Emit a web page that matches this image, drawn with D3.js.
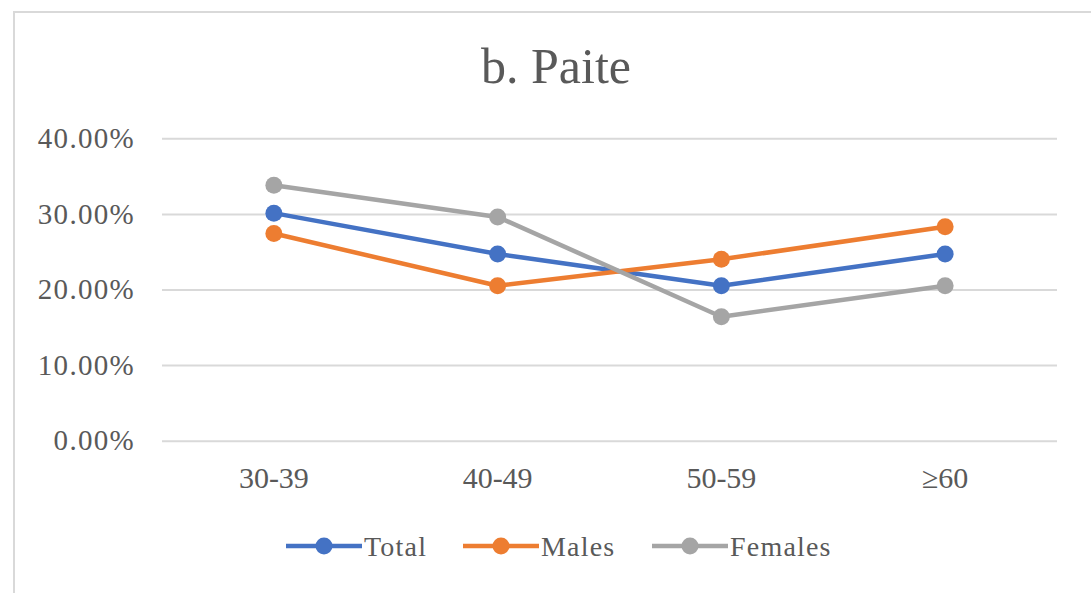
<!DOCTYPE html>
<html><head><meta charset="utf-8">
<script src="https://cdn.jsdelivr.net/npm/d3@7"></script>
<style>
html,body{margin:0;padding:0;background:#fff;}
</style></head>
<body>
<svg id="chart" width="1091" height="593"></svg>
<script>
const categories = ["30-39", "40-49", "50-59", "≥60"];
const seriesNames = ["Total", "Males", "Females"];
const totalValues = [0.301, 0.247, 0.205, 0.247];
const malesValues = [0.274, 0.205, 0.240, 0.283];
const femalesValues = [0.338, 0.296, 0.164, 0.205];
const yTicks = [0, 0.1, 0.2, 0.3, 0.4];
const colors = ["#4472C4", "#ED7D31", "#A5A5A5"];
const title = "b. Paite";

const FONT = '"Liberation Serif", "Times New Roman", serif';
const TEXT = "#595959";
const series = [totalValues, malesValues, femalesValues].map((v, i) => ({name: seriesNames[i], values: v, color: colors[i]}));

const svg = d3.select("#chart");
svg.append("rect").attr("x", 14).attr("y", 12).attr("width", 1100).attr("height", 600)
  .attr("fill", "#fff").attr("stroke", "#d9d9d9").attr("stroke-width", 2);

const x = d3.scaleBand().domain(categories).range([162, 1057]);
const y = d3.scaleLinear().domain([0, 0.4]).range([440.7, 138.3]);

svg.append("text").attr("x", 556).attr("y", 82.5).attr("text-anchor", "middle")
  .style("font-family", FONT).style("fill", TEXT).style("font-size", "50px").text(title);

const gy = svg.append("g").attr("transform", "translate(162,0)")
  .call(d3.axisLeft(y).tickValues(yTicks).tickFormat(d => (d * 100).toFixed(2) + "%").tickSize(-(1057 - 162)).tickPadding(27));
gy.select(".domain").remove();
gy.selectAll(".tick line").attr("stroke", "#d9d9d9").attr("stroke-width", 2);
gy.selectAll(".tick text").style("font-family", FONT).style("fill", TEXT).style("font-size", "29px")
  .style("letter-spacing", "1.3px").attr("dy", "0.32em");

const gx = svg.append("g").attr("transform", "translate(0,440.7)")
  .call(d3.axisBottom(x).tickSize(0).tickPadding(26));
gx.select(".domain").remove();
gx.selectAll(".tick text").style("font-family", FONT).style("fill", TEXT).style("font-size", "30px").attr("dy", "0.71em");

const line = d3.line().x((d, i) => x(categories[i]) + x.bandwidth() / 2).y(d => y(d));
series.forEach(s => {
  svg.append("path").datum(s.values).attr("d", line).attr("fill", "none")
    .attr("stroke", s.color).attr("stroke-width", 4.5).attr("stroke-linejoin", "round");
  svg.selectAll(null).data(s.values).enter().append("circle")
    .attr("cx", (d, i) => x(categories[i]) + x.bandwidth() / 2).attr("cy", d => y(d))
    .attr("r", 8.5).attr("fill", s.color);
});

const legendX = [286, 463, 652];
series.forEach((s, i) => {
  const g = svg.append("g").attr("transform", `translate(${legendX[i]},546)`);
  g.append("line").attr("x1", 0).attr("x2", 76).attr("stroke", s.color).attr("stroke-width", 4.5);
  g.append("circle").attr("cx", 38).attr("r", 8.5).attr("fill", s.color);
  g.append("text").attr("x", 78).attr("dy", "0.35em").style("font-family", FONT).style("fill", TEXT)
    .style("font-size", "28px").style("letter-spacing", "1.2px").text(s.name);
});
</script>
</body></html>
